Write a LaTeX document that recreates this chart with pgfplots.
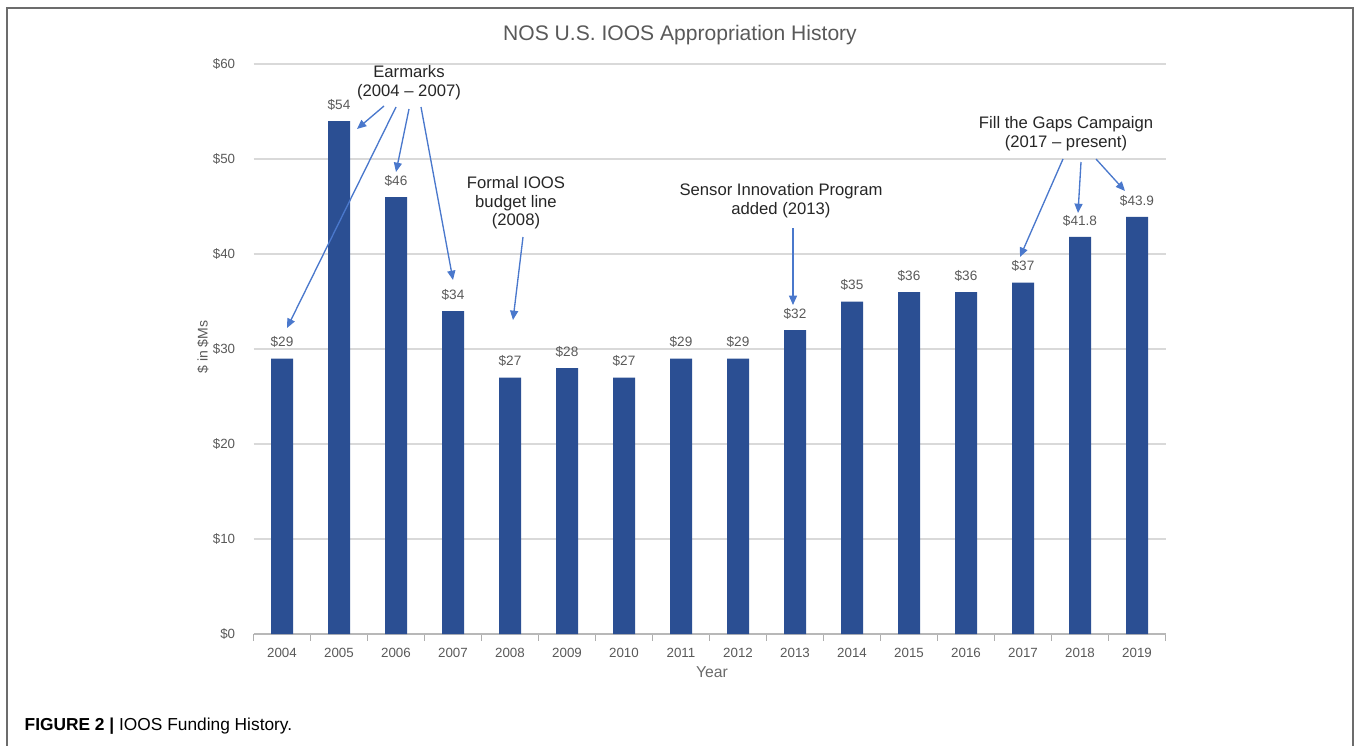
\documentclass[border=0pt]{standalone}
\usepackage{fontspec}
\setmainfont{Liberation Sans}
\usepackage{pgfplots}
\pgfplotsset{compat=1.18}
\usetikzlibrary{arrows.meta}
\definecolor{barblue}{HTML}{2B4F93}
\definecolor{arrowblue}{HTML}{4A78CC}
\definecolor{gridgray}{HTML}{D9D9D9}
\definecolor{ticktext}{HTML}{595959}
\definecolor{anntext}{HTML}{262626}
\begin{document}
\begin{tikzpicture}
\begin{axis}[
  at={(190.125pt,-475.5pt)}, anchor=south west,
  scale only axis, width=684pt, height=427.5pt,
  xmin=-0.5, xmax=15.5, ymin=0, ymax=60,
  ytick={0,10,...,60},
  yticklabel={\$\pgfmathprintnumber{\tick}},
  xtick={0,...,15},
  xticklabels={2004,2005,2006,2007,2008,2009,2010,2011,2012,2013,2014,2015,2016,2017,2018,2019},
  minor xtick={-0.5,0.5,...,15.5},
  major x tick style={draw=none},
  minor x tick style={draw=gridgray!80!black, line width=0.6pt},
  minor tick length=5pt,
  tick align=outside,
  ytick style={draw=none},
  axis x line*=bottom, axis y line*=left,
  x axis line style={draw=gridgray!85!black, line width=0.8pt, -},
  y axis line style={draw=none},
  ymajorgrids, grid style={gridgray, line width=0.8pt},
  /pgf/number format/assume math mode=true,
  tick label style={font=\fontsize{10}{12}\selectfont, text=ticktext},
  xticklabel style={yshift=-3pt},
  yticklabel style={xshift=-6pt},
  clip=false,
]
\addplot[ybar, bar width=16.5pt, fill=barblue, draw=none,
  nodes near coords={\$\pgfmathprintnumber{\pgfplotspointmeta}},
  every node near coord/.append style={font=\fontsize{10.2}{12}\selectfont, text=ticktext, yshift=4.5pt},
] coordinates {
(0,29) (1,54) (2,46) (3,34) (4,27) (5,28) (6,27) (7,29) (8,29) (9,32) (10,35) (11,36) (12,36) (13,37) (14,41.8) (15,43.9)
};
\end{axis}
\begin{scope}[x=0.75pt,y=-0.75pt]
\path[use as bounding box] (0,0) rectangle (1357,746);
\draw[draw=gray!85!black,line width=1.2pt] (7,760)--(7,8)--(1353,8)--(1353,760);
% title and labels
\node[text=ticktext, font=\fontsize{15.8}{18}\selectfont] at (680,35) {NOS U.S. IOOS Appropriation History};
\node[text=ticktext, font=\fontsize{10.5}{12}\selectfont, rotate=90] at (203,347) {\$ in \$Ms};
\node[text=ticktext!90!white, font=\fontsize{11.8}{14}\selectfont] at (712,672) {Year};
% annotations
\begin{scope}[font=\fontsize{12.5}{15}\selectfont, text=anntext, align=center]
\node at (409,83) {Earmarks\\[-1pt](2004 -- 2007)};
\node at (516,203) {Formal IOOS\\[-1pt]budget line\\[-1pt](2008)};
\node at (781,201) {Sensor Innovation Program\\[-1pt]added (2013)};
\node at (1066,134) {Fill the Gaps Campaign\\[-1pt](2017 -- present)};
\end{scope}
\begin{scope}[draw=arrowblue, line width=1pt, -{Triangle[length=7pt,width=6pt]}]
\draw (384,106) -- (357,129);
\draw (396,107) -- (287,328);
\draw (409,109) -- (396,172);
\draw (421,107) -- (453,280);
\draw (523,237) -- (513,320);
\draw (793,228) -- (793,305);
\draw (1063,159) -- (1020,257);
\draw (1081,162) -- (1078,213);
\draw (1096,159) -- (1125,191);
\end{scope}
% caption
\node[anchor=west, font=\fontsize{13}{15}\selectfont, text=black] at (20,726) {\textbf{FIGURE 2 |} IOOS Funding History.};
\end{scope}
\end{tikzpicture}
\end{document}
